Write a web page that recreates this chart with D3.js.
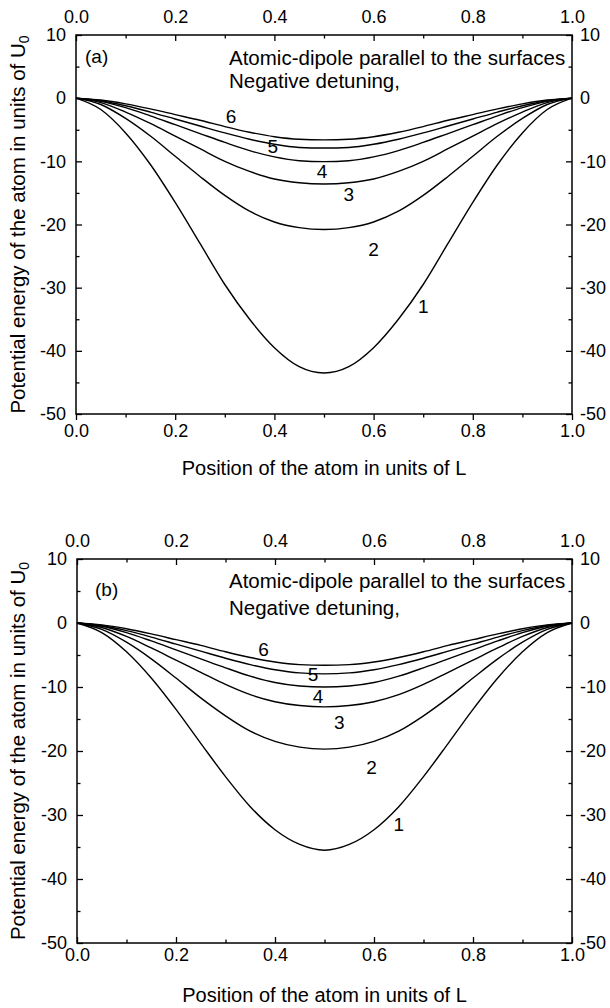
<!DOCTYPE html>
<html>
<head>
<meta charset="utf-8">
<script src="https://cdn.jsdelivr.net/npm/d3@7"></script>
<style>
  body { margin: 0; background: #fff; }
  text { font-family: "Liberation Sans", Arial, sans-serif; fill: #000; }
</style>
</head>
<body>
<div id="plot"></div>
<script>
// positions along the cavity (units of L)
const xPos = [0, 0.05, 0.1, 0.15, 0.2, 0.25, 0.3, 0.35, 0.4, 0.45, 0.5,
              0.55, 0.6, 0.65, 0.7, 0.75, 0.8, 0.85, 0.9, 0.95, 1.0];

// panel (a) curves
const a1 = [0, -1.8, -5.5, -10.5, -16.5, -23, -29.5, -35, -39.5, -42.5, -43.5,
            -42.5, -39.5, -35, -29.5, -23, -16.5, -10.5, -5.5, -1.8, 0];
const a2 = [0, -1.0, -3.2, -6.0, -9.2, -12.4, -15.4, -17.9, -19.6, -20.5, -20.8,
            -20.5, -19.6, -17.9, -15.4, -12.4, -9.2, -6.0, -3.2, -1.0, 0];
const a3 = [0, -0.7, -2.2, -4.0, -6.0, -8.0, -10.0, -11.6, -12.8, -13.4, -13.6,
            -13.4, -12.8, -11.6, -10.0, -8.0, -6.0, -4.0, -2.2, -0.7, 0];
const a4 = [0, -0.5, -1.5, -2.8, -4.2, -5.6, -7.0, -8.3, -9.3, -9.9, -10.05,
            -9.9, -9.3, -8.3, -7.0, -5.6, -4.2, -2.8, -1.5, -0.5, 0];
const a5 = [0, -0.4, -1.2, -2.2, -3.3, -4.4, -5.5, -6.5, -7.3, -7.8, -7.9,
            -7.8, -7.3, -6.5, -5.5, -4.4, -3.3, -2.2, -1.2, -0.4, 0];
const a6 = [0, -0.3, -0.9, -1.7, -2.6, -3.5, -4.5, -5.4, -6.1, -6.5, -6.6,
            -6.5, -6.1, -5.4, -4.5, -3.5, -2.6, -1.7, -0.9, -0.3, 0];

// panel (b) curves
const b1 = [0, -1.5, -4.5, -8.6, -13.5, -18.8, -24, -28.7, -32.3, -34.6, -35.5,
            -34.6, -32.3, -28.7, -24, -18.8, -13.5, -8.6, -4.5, -1.5, 0];
const b2 = [0, -1.0, -3.0, -5.6, -8.6, -11.7, -14.5, -16.9, -18.5, -19.4, -19.7,
            -19.4, -18.5, -16.9, -14.5, -11.7, -8.6, -5.6, -3.0, -1.0, 0];
const b3 = [0, -0.7, -2.1, -3.9, -5.8, -7.7, -9.6, -11.2, -12.3, -12.9, -13.1,
            -12.9, -12.3, -11.2, -9.6, -7.7, -5.8, -3.9, -2.1, -0.7, 0];
const b4 = [0, -0.5, -1.5, -2.8, -4.2, -5.6, -7.0, -8.3, -9.3, -9.85, -10.0,
            -9.85, -9.3, -8.3, -7.0, -5.6, -4.2, -2.8, -1.5, -0.5, 0];
const b5 = [0, -0.4, -1.2, -2.2, -3.3, -4.4, -5.5, -6.5, -7.3, -7.8, -7.95,
            -7.8, -7.3, -6.5, -5.5, -4.4, -3.3, -2.2, -1.2, -0.4, 0];
const b6 = [0, -0.3, -0.9, -1.7, -2.6, -3.5, -4.5, -5.4, -6.1, -6.5, -6.6,
            -6.5, -6.1, -5.4, -4.5, -3.5, -2.6, -1.7, -0.9, -0.3, 0];

// curve number labels (data coordinates)
const curveNames = ["1", "2", "3", "4", "5", "6"];
const aLabelX = [0.70, 0.60, 0.55, 0.496, 0.397, 0.3125];
const aLabelY = [-33, -24, -15.3, -11.6, -7.7, -2.95];
const bLabelX = [0.65, 0.595, 0.53, 0.487, 0.477, 0.377];
const bLabelY = [-31.5, -22.5, -15.5, -11.4, -8.1, -4.1];

const xMajor = [0, 0.2, 0.4, 0.6, 0.8, 1.0];
const xMinor = [0.1, 0.3, 0.5, 0.7, 0.9];
const yMajor = [10, 0, -10, -20, -30, -40, -50];
const yMinor = [5, -5, -15, -25, -35, -45];

const W = 610, H = 1008;
const svg = d3.select("div#plot").append("svg")
  .attr("width", W).attr("height", H);

// plain hyphen for negatives, like the original
const yFmt = d => String(d);
const xFmt = d3.format(".1f");

function drawPanel(p) {
  const x = d3.scaleLinear().domain([0, 1]).range([p.left, p.right]);
  const y = d3.scaleLinear().domain([10, -50]).range([p.top, p.bottom]);
  const g = svg.append("g");

  // axes
  function axis(gen, pos, vals, size, pad, labels) {
    const a = gen.tickValues(vals).tickSize(size).tickSizeOuter(0).tickPadding(pad);
    if (!labels) a.tickFormat("");
    const ag = g.append("g").attr("transform", pos).call(a);
    ag.select(".domain").remove();
    ag.selectAll("line").attr("stroke", "#000").attr("stroke-width", 1.3);
    ag.selectAll("text").style("font-size", "18px").attr("fill", "#000");
    return ag;
  }
  axis(d3.axisTop(x).tickFormat(xFmt), `translate(0,${p.top})`, xMajor, -6, 12, true);
  axis(d3.axisTop(x), `translate(0,${p.top})`, xMinor, -3.5, 0, false);
  const bs = p.bottomOut ? 6 : -6;
  axis(d3.axisBottom(x).tickFormat(xFmt), `translate(0,${p.bottom})`, xMajor, bs, p.bottomPad, true);
  axis(d3.axisBottom(x), `translate(0,${p.bottom})`, xMinor, bs * 0.6, 0, false);
  axis(d3.axisLeft(y).tickFormat(yFmt), `translate(${p.left},0)`, yMajor, -6, 10, true);
  axis(d3.axisLeft(y), `translate(${p.left},0)`, yMinor, -3.5, 0, false);
  axis(d3.axisRight(y).tickFormat(yFmt), `translate(${p.right},0)`, yMajor, -6, 8, true);
  axis(d3.axisRight(y), `translate(${p.right},0)`, yMinor, -3.5, 0, false);

  // frame
  g.append("rect")
    .attr("x", p.left).attr("y", p.top)
    .attr("width", p.right - p.left).attr("height", p.bottom - p.top)
    .attr("fill", "none").attr("stroke", "#000").attr("stroke-width", 1.5);

  // curves
  const line = d3.line()
    .x((d, i) => x(xPos[i]))
    .y(d => y(d))
    .curve(d3.curveMonotoneX);
  g.selectAll("path.curve")
    .data(p.curves)
    .enter().append("path")
    .attr("class", "curve")
    .attr("d", line)
    .attr("fill", "none")
    .attr("stroke", "#000")
    .attr("stroke-width", 1.4);

  // curve labels
  g.selectAll("text.lab")
    .data(curveNames)
    .enter().append("text")
    .attr("class", "lab")
    .attr("x", (d, i) => x(p.labX[i]))
    .attr("y", (d, i) => y(p.labY[i]))
    .attr("dy", "0.35em")
    .attr("text-anchor", "middle")
    .style("font-size", "19px")
    .text(d => d);

  // annotations
  g.append("text").attr("x", p.left + p.letterDx).attr("y", p.top + p.letterDy)
    .style("font-size", "19px").text(p.letter);
  g.append("text").attr("x", 229).attr("y", p.top + p.line1Dy)
    .style("font-size", "20.5px").text("Atomic-dipole parallel to the surfaces");
  g.append("text").attr("x", 229).attr("y", p.top + p.line2Dy)
    .style("font-size", "20.5px").text("Negative detuning,");

  // axis titles
  g.append("text")
    .attr("x", (p.left + p.right) / 2).attr("y", p.titleY)
    .attr("text-anchor", "middle")
    .style("font-size", "20px")
    .text("Position of the atom in units of L");

  const yt = g.append("text")
    .attr("transform", `translate(25,${(p.top + p.bottom) / 2}) rotate(-90)`)
    .attr("text-anchor", "middle")
    .style("font-size", "20.5px");
  yt.append("tspan").text("Potential energy of the atom in units of U");
  yt.append("tspan").attr("dy", "0.3em").style("font-size", "14px").text("0");
}

drawPanel({
  left: 76, right: 572, top: 35, bottom: 414,
  curves: [a1, a2, a3, a4, a5, a6], labX: aLabelX, labY: aLabelY,
  bottomOut: true, bottomPad: 4, titleY: 475,
  letter: "(a)", letterDx: 9, letterDy: 28, line1Dy: 30, line2Dy: 53
});
drawPanel({
  left: 77, right: 572, top: 559, bottom: 943,
  curves: [b1, b2, b3, b4, b5, b6], labX: bLabelX, labY: bLabelY,
  bottomOut: false, bottomPad: 5, titleY: 1002,
  letter: "(b)", letterDx: 18, letterDy: 37, line1Dy: 29, line2Dy: 56
});
</script>
</body>
</html>
